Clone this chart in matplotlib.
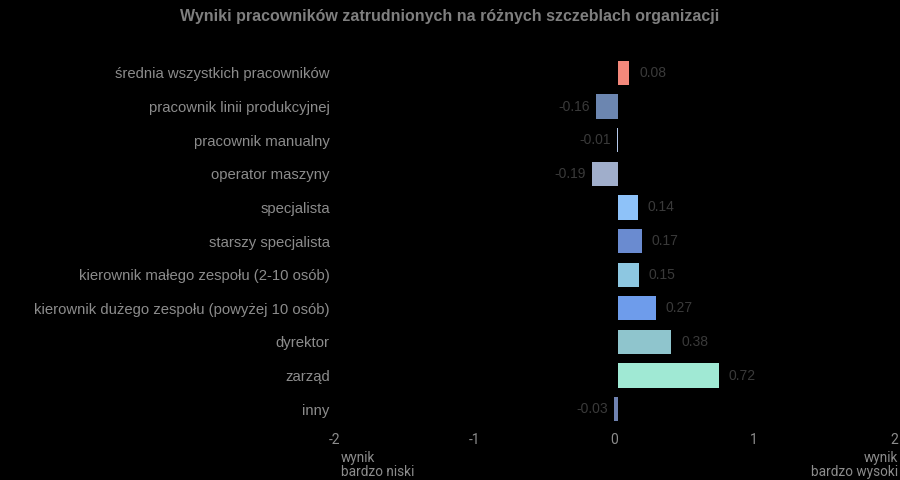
import matplotlib
matplotlib.use('Agg')
from matplotlib import pyplot as plt
from matplotlib import transforms

categories = ['średnia wszystkich pracowników', 'pracownik linii produkcyjnej', 'pracownik manualny',
              'operator maszyny', 'specjalista', 'starszy specjalista', 'kierownik małego zespołu (2-10 osób)',
              'kierownik dużego zespołu (powyżej 10 osób)', 'dyrektor', 'zarząd', 'inny']
values = [0.08, -0.16, -0.01, -0.19, 0.14, 0.17, 0.15, 0.27, 0.38, 0.72, -0.03]
colors = ['#f4887b', '#6c86b0', '#b4c8ea', '#a0aecb', '#8ec2f9', '#6a8bd0', '#8dc7e1', '#6e9ceb',
          '#8fc5cd', '#a0e9d4', '#6f82b0']
x_ticks = [-2, -1, 0, 1, 2]

fig = plt.figure(figsize=(9, 4.8), dpi=100, facecolor='black')
ax = fig.add_axes([0.3756, 0.1125, 0.6224, 0.7705])
ax.set_facecolor('black')

pos = list(range(len(categories)))
ax.barh(pos, values, height=0.72, color=colors)
ax.set_ylim(len(categories) - 0.5, -0.5)
ax.set_xlim(-2, 2)

for y, v in zip(pos, values):
    if v >= 0:
        ax.text(v + 0.07, y, f'{v:.2f}', va='center', ha='left', color='#3a3a3a', fontsize=10,
                family='Liberation Sans')
    else:
        ax.text(v - 0.04, y, f'{v:.2f}', va='center', ha='right', color='#3a3a3a', fontsize=10,
                family='Liberation Sans')

ax.set_yticks(pos)
ax.set_yticklabels(categories, family='Liberation Sans', fontsize=10.7, color='#8c8c8c')
ax.set_xticks(x_ticks)
ax.set_xticklabels([str(t) for t in x_ticks], family='Roboto', fontsize=10, color='#8c8c8c')
ax.tick_params(length=0, pad=6)
ax.tick_params(axis='x', pad=5)
shift = transforms.ScaledTranslation(-4 / 100, 0, fig.dpi_scale_trans)
for lbl in ax.get_xticklabels():
    lbl.set_transform(lbl.get_transform() + shift)
for s in ax.spines.values():
    s.set_visible(False)

fig.text(0.379, 0.032, 'wynik\nbardzo niski', ha='left', va='center', family='Roboto', fontsize=9.8,
         color='#8c8c8c', linespacing=1.0)
fig.text(0.998, 0.032, 'wynik\nbardzo wysoki', ha='right', va='center', family='Roboto', fontsize=9.8,
         color='#8c8c8c', linespacing=1.0)

fig.text(0.5, 0.965, 'Wyniki pracowników zatrudnionych na różnych szczeblach organizacji', ha='center',
         va='center', family='Liberation Sans', fontsize=11.5, fontweight='bold', color='#7f7f7f')

plt.savefig('out.png', dpi=100, facecolor='black')
plt.close()
